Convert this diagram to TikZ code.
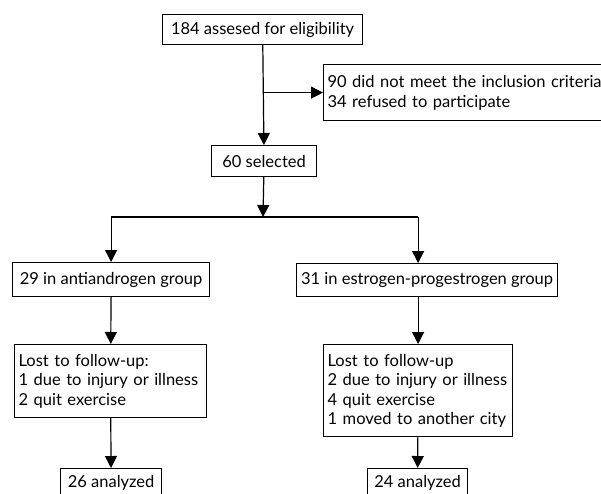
\documentclass[tikz,border=0pt]{standalone}
\usepackage{fontspec}
\setmainfont{Lato}
\usetikzlibrary{positioning,arrows.meta}

\begin{document}
\begin{tikzpicture}[
    x=1pt, y=-1pt,
    font=\fontsize{16.5}{19.5}\selectfont,
    box/.style={draw, line width=1.2pt, anchor=north west, align=left,
      inner xsep=4pt, inner ysep=0pt},
    flow/.style={-{Triangle[length=12pt,width=12pt]}, line width=1.2pt}
  ]
    \useasboundingbox (0,0) rectangle (601,493);

    % screening
    \node[box, minimum width=200pt, minimum height=30pt] (elig) at (162,14)
      {184 assesed for eligibility};
    \node[box, text width=290pt, minimum height=56pt] (excl) at (323,64)
      {90 did not meet the inclusion criteria\\34 refused to participate};
    \node[box, minimum width=105pt, minimum height=31pt] (sel) at (211,145)
      {60 selected};

    % groups
    \node[box, minimum width=197pt, minimum height=34pt] (anti) at (12,262)
      {29 in antiandrogen group};
    \node[box, minimum width=261pt, minimum height=33pt] (estr) at (296,263)
      {31 in estrogen-progestrogen group};

    \node[box, text width=184pt, minimum height=73pt] (lostL) at (14,344)
      {Lost to follow-up:\\1 due to injury or illness\\2 quit exercise};
    \node[box, text width=181pt, minimum height=92pt] (lostR) at (323,344)
      {Lost to follow-up\\2 due to injury or illness\\4 quit exercise\\1 moved to another city};

    \node[box, minimum width=101pt, minimum height=29pt] (anL) at (60,468)
      {26 analyzed};
    \node[box, minimum width=100pt, minimum height=29pt] (anR) at (367,468)
      {24 analyzed};

    \coordinate (split) at (263,217);

    \draw[flow] (elig) -- (sel);
    \draw[flow] (sel.north |- excl.west) -- (excl.west);
    \draw[flow] (sel) -- (split);
    \draw[line width=1.2pt] (split) -- (split -| lostR.north);
    \draw[flow] (split) -| (anti.north);
    \draw[flow] (split -| lostR.north) -- (lostR.north |- estr.north);
    \draw[flow] (anti) -- (lostL);
    \draw[flow] (estr.south -| lostR.north) -- (lostR);
    \draw[flow] (lostL) -- (anL);
    \draw[flow] (lostR) -- (anR);
\end{tikzpicture}
\end{document}
